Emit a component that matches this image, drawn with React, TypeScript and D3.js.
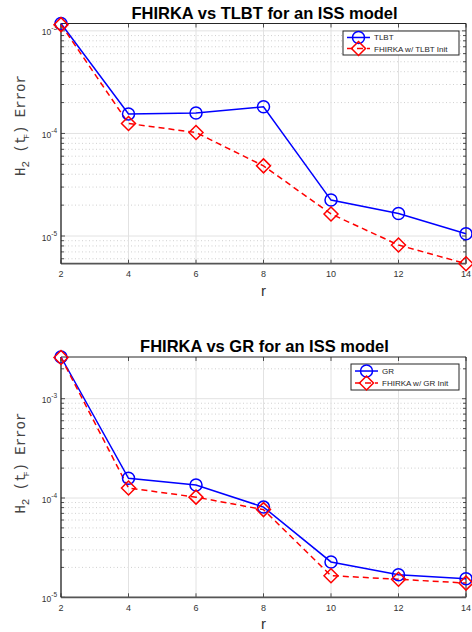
import * as d3 from "d3";

// readings (log scale)
const rValues = [2, 4, 6, 8, 10, 12, 14];
const tlbtErr = [1.18e-3, 1.55e-4, 1.58e-4, 1.82e-4, 2.24e-5, 1.66e-5, 1.05e-5];
const fhirkaTlbtErr = [1.15e-3, 1.25e-4, 1.02e-4, 4.83e-5, 1.64e-5, 8.17e-6, 5.37e-6];
const grErr = [2.63e-3, 1.58e-4, 1.35e-4, 8.1e-5, 2.27e-5, 1.69e-5, 1.54e-5];
const fhirkaGrErr = [2.6e-3, 1.26e-4, 1.02e-4, 7.64e-5, 1.65e-5, 1.52e-5, 1.39e-5];
const xTicks = [2, 4, 6, 8, 10, 12, 14];
const yTickExps = [-5, -4, -3];

const W = 472;
const H = 632;
const sans = "'Liberation Sans', Arial, sans-serif";
const mono = "'Liberation Mono', 'Courier New', monospace";

type PanelProps = {
  title: string;
  top: number;
  bottom: number;
  yDomain: [number, number];
  base: number[];
  fhirka: number[];
  baseName: string;
  fhirkaName: string;
  legend: { x0: number; x1: number; y0: number; y1: number };
  labelShift: number;
};

function Panel(p: PanelProps) {
  const left = 61;
  const right = 466;
  const x = d3.scaleLinear().domain([2, 14]).range([left, right]);
  const y = d3.scaleLog().domain(p.yDomain).range([p.bottom, p.top]);

  const [lo, hi] = p.yDomain;
  const minor: number[] = [];
  for (let e = Math.floor(Math.log10(lo)); e <= Math.ceil(Math.log10(hi)); e++) {
    for (let k = 2; k <= 9; k++) {
      const v = k * Math.pow(10, e);
      if (v >= lo && v <= hi) minor.push(v);
    }
  }
  const majors = yTickExps.map((e) => Math.pow(10, e)).filter((v) => v >= lo * 0.999 && v <= hi);

  const line = d3
    .line<number>()
    .x((_, i) => x(rValues[i]))
    .y((d) => y(d));

  const diamond = (cx: number, cy: number, s: number) =>
    `M${cx},${cy - s}L${cx + s},${cy}L${cx},${cy + s}L${cx - s},${cy}Z`;

  const lg = p.legend;
  const row1 = lg.y0 + (lg.y1 - lg.y0) * 0.27;
  const row2 = lg.y0 + (lg.y1 - lg.y0) * 0.73;
  const lx0 = lg.x0 + 4;
  const lx1 = lg.x0 + 27;
  const lm = (lx0 + lx1) / 2;
  const midY = (p.top + p.bottom) / 2 + p.labelShift;

  return (
    <g>
      {/* grid */}
      {minor.map((v) => (
        <line key={"mg" + v} x1={left} x2={right} y1={y(v)} y2={y(v)} stroke="#c4c4c4" strokeWidth={0.8} strokeDasharray="1,2.5" />
      ))}
      {majors.map((v) => (
        <line key={"Mg" + v} x1={left} x2={right} y1={y(v)} y2={y(v)} stroke="#e2e2e2" strokeWidth={1} />
      ))}
      {xTicks.map((t) => (
        <line key={"xg" + t} x1={x(t)} x2={x(t)} y1={p.top} y2={p.bottom} stroke="#e2e2e2" strokeWidth={1} />
      ))}

      {/* ticks */}
      {minor.map((v) => (
        <g key={"mt" + v}>
          <line x1={left} x2={left + 3} y1={y(v)} y2={y(v)} stroke="#262626" strokeWidth={0.8} />
          <line x1={right} x2={right - 3} y1={y(v)} y2={y(v)} stroke="#262626" strokeWidth={0.8} />
        </g>
      ))}
      {majors.map((v) => (
        <g key={"Mt" + v}>
          <line x1={left} x2={left + 4} y1={y(v)} y2={y(v)} stroke="#262626" strokeWidth={0.8} />
          <line x1={right} x2={right - 4} y1={y(v)} y2={y(v)} stroke="#262626" strokeWidth={0.8} />
        </g>
      ))}
      {xTicks.map((t) => (
        <g key={"xt" + t}>
          <line x1={x(t)} x2={x(t)} y1={p.bottom} y2={p.bottom - 4} stroke="#262626" strokeWidth={0.8} />
          <line x1={x(t)} x2={x(t)} y1={p.top} y2={p.top + 4} stroke="#262626" strokeWidth={0.8} />
        </g>
      ))}

      {/* box */}
      <line x1={left} x2={right} y1={p.top} y2={p.top} stroke="#262626" strokeWidth={1} />
      <line x1={right} x2={right} y1={p.top} y2={p.bottom} stroke="#262626" strokeWidth={1} />
      <line x1={left} x2={right} y1={p.bottom} y2={p.bottom} stroke="#555" strokeWidth={1.8} />
      <line x1={left} x2={left} y1={p.top} y2={p.bottom} stroke="#262626" strokeWidth={1.3} />

      {/* tick labels */}
      {xTicks.map((t) => (
        <text key={"xl" + t} x={x(t)} y={p.bottom + 13.5} textAnchor="middle" fontFamily={sans} fontSize={9} fill="#333">
          {t}
        </text>
      ))}
      {majors.map((v) => (
        <text key={"yl" + v} x={57} y={y(v) + 4.5} textAnchor="end" fontFamily={sans} fontSize={8.5} fill="#333">
          10
          <tspan dy={-5} fontSize={6.5}>
            {String(Math.round(Math.log10(v)))}
          </tspan>
        </text>
      ))}

      {/* series */}
      <path d={line(p.base) || ""} fill="none" stroke="#0000ff" strokeWidth={1.5} />
      <path d={line(p.fhirka) || ""} fill="none" stroke="#ff0000" strokeWidth={1.5} strokeDasharray="6,4" />
      {p.base.map((v, i) => (
        <circle key={"c" + i} cx={x(rValues[i])} cy={y(v)} r={6} fill="none" stroke="#0000ff" strokeWidth={1.5} />
      ))}
      {p.fhirka.map((v, i) => (
        <path key={"d" + i} d={diamond(x(rValues[i]), y(v), 7)} fill="none" stroke="#ff0000" strokeWidth={1.5} />
      ))}

      {/* titles */}
      <text x={(left + right) / 2 + 1} y={p.top - 5} textAnchor="middle" fontFamily={sans} fontWeight="bold" fontSize={16.5} fill="#000">
        {p.title}
      </text>
      <text x={(left + right) / 2} y={p.bottom + 32} textAnchor="middle" fontFamily={sans} fontSize={15} fill="#333">
        r
      </text>
      <text transform={`translate(25,${midY}) rotate(-90)`} textAnchor="middle" fontFamily={mono} fontSize={14} fill="#444">
        H<tspan dy={4} fontSize={11}>2</tspan>
        <tspan dy={-4}> (t</tspan>
        <tspan dy={4} dx={-3} fontSize={8}>F</tspan>
        <tspan dy={-4}>)  Error</tspan>
      </text>

      {/* legend */}
      <rect x={lg.x0} y={lg.y0} width={lg.x1 - lg.x0} height={lg.y1 - lg.y0} fill="#fff" stroke="#262626" strokeWidth={1} />
      <line x1={lx0} x2={lx1} y1={row1} y2={row1} stroke="#0000ff" strokeWidth={1.5} />
      <circle cx={lm} cy={row1} r={6} fill="none" stroke="#0000ff" strokeWidth={1.5} />
      <line x1={lx0} x2={lx1} y1={row2} y2={row2} stroke="#ff0000" strokeWidth={1.5} strokeDasharray="6,4" />
      <path d={diamond(lm, row2, 7)} fill="none" stroke="#ff0000" strokeWidth={1.5} />
      <text x={lx1 + 4} y={row1 + 3} fontFamily={sans} fontSize={8} fill="#262626">
        {p.baseName}
      </text>
      <text x={lx1 + 4} y={row2 + 3} fontFamily={sans} fontSize={8} fill="#262626">
        {p.fhirkaName}
      </text>
    </g>
  );
}

export default function App() {
  return (
    <svg width={W} height={H} style={{ position: "absolute", left: 0, top: 0, background: "#fff" }}>
      <rect width={W} height={H} fill="#fff" />
      <Panel
        title="FHIRKA vs TLBT for an ISS model"
        top={23.5}
        bottom={263.7}
        yDomain={[5.37e-6, 1.18e-3]}
        base={tlbtErr}
        fhirka={fhirkaTlbtErr}
        baseName="TLBT"
        fhirkaName="FHIRKA w/ TLBT Init"
        legend={{ x0: 343, x1: 459, y0: 31, y1: 55 }}
        labelShift={-18}
      />
      <Panel
        title="FHIRKA vs GR for an ISS model"
        top={357}
        bottom={597.3}
        yDomain={[1e-5, 2.63e-3]}
        base={grErr}
        fhirka={fhirkaGrErr}
        baseName="GR"
        fhirkaName="FHIRKA w/ GR Init"
        legend={{ x0: 351, x1: 459, y0: 364, y1: 390 }}
        labelShift={-14}
      />
    </svg>
  );
}
